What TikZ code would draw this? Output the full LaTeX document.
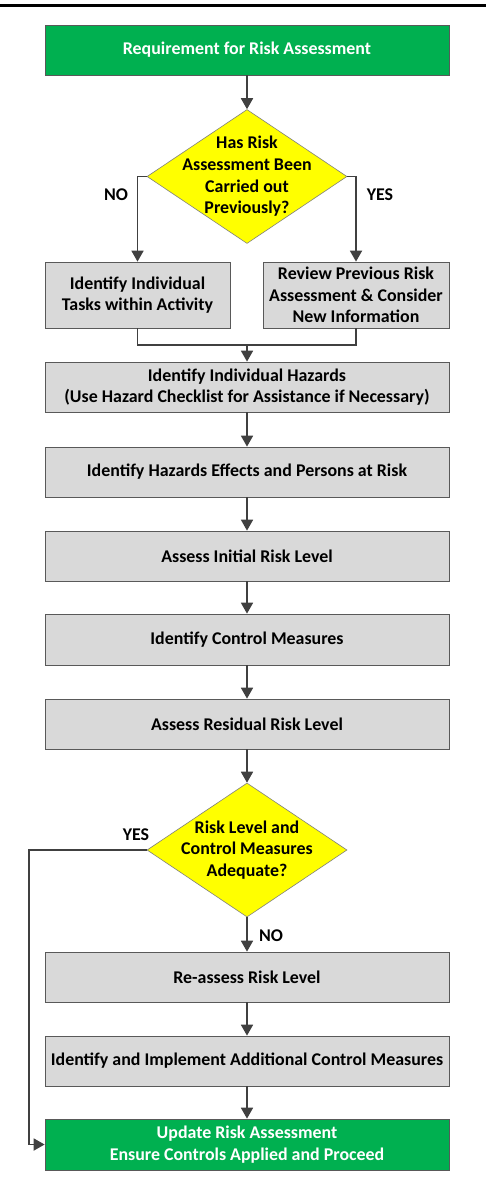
\documentclass[tikz,border=0pt]{standalone}
\usepackage{fontspec}
\setmainfont{Carlito}
\usetikzlibrary{shapes.geometric,arrows.meta}
\definecolor{gfill}{HTML}{00B050}
\definecolor{bfill}{HTML}{D9D9D9}
\definecolor{bdraw}{HTML}{595959}
\definecolor{yfill}{HTML}{FFFF00}
\definecolor{ydraw}{HTML}{7F7F7F}
\definecolor{conn}{HTML}{404040}
\tikzset{
  base/.style={font=\fontsize{17.9}{21.7}\selectfont\bfseries, align=center, inner sep=0pt},
  greenbox/.style={base, rectangle, fill=gfill, draw=bdraw, line width=0.75pt, text=white, minimum width=404pt},
  graybox/.style={base, rectangle, fill=bfill, draw=bdraw, line width=0.75pt, text=black, minimum width=404pt, minimum height=50pt},
  decision/.style={diamond, fill=yfill, draw=ydraw, line width=0.6pt, inner sep=0pt, minimum width=200pt, minimum height=134pt},
  dtext/.style={base, text=black},
  lbl/.style={base, text=black},
  arr/.style={draw=conn, line width=1.8pt, -{Triangle[width=12pt,length=11pt]}},
  ln/.style={draw=conn, line width=1.8pt},
}
\begin{document}
\begin{tikzpicture}[x=1pt,y=-1pt]
\useasboundingbox (0,0) rectangle (486,1184);
\draw[line width=2.7pt, black] (0,5.5) -- (486,5.5);

\node[greenbox, minimum height=50pt] (req) at (247,50) {Requirement for Risk Assessment};
\node[decision] (d1) at (247,176.5) {};
\node[dtext] (d1t) at (d1.center) {Has Risk\\Assessment Been\\Carried out\\Previously?};
\node[graybox, minimum width=185pt, minimum height=66pt] (t1) at (137.5,295) {Identify Individual\\Tasks within Activity};
\node[graybox, minimum width=186pt, minimum height=66pt] (t2) at (356,295) {Review Previous Risk\\Assessment \& Consider\\New Information};
\node[graybox] (h1) at (247,387) {Identify Individual Hazards\\(Use Hazard Checklist for Assistance if Necessary)};
\node[graybox] (h2) at (247,472) {Identify Hazards Effects and Persons at Risk};
\node[graybox] (h3) at (247,556) {Assess Initial Risk Level};
\node[graybox, minimum height=51pt] (h4) at (247,639.5) {Identify Control Measures};
\node[graybox] (h5) at (247,724) {Assess Residual Risk Level};
\node[decision] (d2) at (247,850) {};
\node[dtext] (d2t) at (d2.center) {Risk Level and\\Control Measures\\Adequate?};
\node[graybox] (r1) at (247,977) {Re-assess Risk Level};
\node[graybox] (r2) at (247,1061) {Identify and Implement Additional Control Measures};
\node[greenbox, minimum height=51pt] (fin) at (247,1144.5) {Update Risk Assessment\\Ensure Controls Applied and Proceed};

\coordinate (j) at (247,345);
\coordinate (fb) at (29,850);

\draw[arr] (req.south) -- (d1.north);
\draw[arr] (d1.west) -| (t1.north);
\draw[arr] (d1.east) -| (t2.north);
\draw[ln] (t1.south) |- (j) -| (t2.south);
\draw[arr] (j) -- (h1.north);
\draw[arr] (h1.south) -- (h2.north);
\draw[arr] (h2.south) -- (h3.north);
\draw[arr] (h3.south) -- (h4.north);
\draw[arr] (h4.south) -- (h5.north);
\draw[arr] (h5.south) -- (d2.north);
\draw[arr] (d2.south) -- (r1.north);
\draw[arr] (r1.south) -- (r2.north);
\draw[arr] (r2.south) -- (fin.north);
\draw[arr] (d2.west) -- (fb) |- (fin.west);

\node[lbl] (no1) at (116,195) {NO};
\node[lbl] (yes1) at (380,195) {YES};
\node[lbl] (yes2) at (136,835) {YES};
\node[lbl, anchor=west] (no2) at (259,936) {NO};
\end{tikzpicture}
\end{document}
